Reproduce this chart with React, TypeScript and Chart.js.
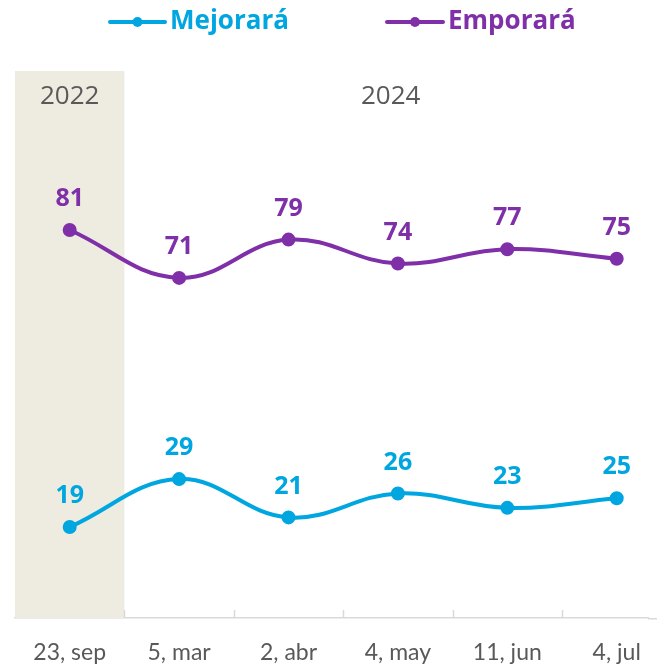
import React, { useEffect, useRef } from "react";
import { Chart, registerables } from "chart.js";

Chart.register(...registerables);

const categories = ["23, sep", "5, mar", "2, abr", "4, may", "11, jun", "4, jul"];
const mejorara = [19, 29, 21, 26, 23, 25];
const emporara = [81, 71, 79, 74, 77, 75];
const seriesNames = ["Mejorará", "Emporará"];
const yearLabels = ["2022", "2024"];

const CYAN = "#00A6DF";
const PURPLE = "#7F30A8";
const GRAY_TEXT = "#595959";
const BAND = "#EEEBE0";
const AXIS = "#D9D9D9";

const decorPlugin = {
  id: "decor",
  beforeDatasetsDraw(chart: any) {
    const { ctx, chartArea, scales } = chart;
    const x = scales.x;
    const x0 = x.getPixelForValue(-0.5);
    const x1 = x.getPixelForValue(0.5);
    ctx.save();
    ctx.fillStyle = BAND;
    ctx.fillRect(x0, chartArea.top, x1 - x0, chartArea.bottom - chartArea.top);
    ctx.fillStyle = GRAY_TEXT;
    ctx.font = "26px 'Open Sans'";
    ctx.textAlign = "center";
    ctx.textBaseline = "middle";
    ctx.fillText(yearLabels[0], (x0 + x1) / 2, chartArea.top + 26);
    ctx.fillText(yearLabels[1], (x1 + chart.width) / 2, chartArea.top + 26);
    ctx.strokeStyle = AXIS;
    ctx.lineWidth = 1.5;
    // extend axis line to the canvas edge
    ctx.beginPath();
    ctx.moveTo(chartArea.right, chartArea.bottom + 0.75);
    ctx.lineTo(chart.width, chartArea.bottom + 0.75);
    ctx.stroke();
    for (let i = 0; i < categories.length; i++) {
      const px = Math.round(x.getPixelForValue(i + 0.5)) + 0.5;
      if (px > chartArea.right) continue;
      ctx.beginPath();
      ctx.moveTo(px, chartArea.bottom);
      ctx.lineTo(px, chartArea.bottom - 8);
      ctx.stroke();
    }
    ctx.restore();
  },
  afterDatasetsDraw(chart: any) {
    const { ctx } = chart;
    ctx.save();
    ctx.font = "bold 25px 'Open Sans'";
    ctx.textAlign = "center";
    ctx.textBaseline = "middle";
    chart.data.datasets.forEach((ds: any, di: number) => {
      const meta = chart.getDatasetMeta(di);
      ctx.fillStyle = ds.borderColor;
      meta.data.forEach((pt: any, i: number) => {
        const d = ds.data[i];
        ctx.fillText(String(typeof d === "object" ? d.y : d), pt.x, pt.y - 31);
      });
    });
    const items = [
      { name: seriesNames[0], color: CYAN, x0: 110, x1: 165 },
      { name: seriesNames[1], color: PURPLE, x0: 387, x1: 443 },
    ];
    const ly = 22;
    items.forEach((it) => {
      ctx.strokeStyle = it.color;
      ctx.fillStyle = it.color;
      ctx.lineWidth = 4;
      ctx.lineCap = "round";
      ctx.beginPath();
      ctx.moveTo(it.x0, ly);
      ctx.lineTo(it.x1, ly);
      ctx.stroke();
      ctx.beginPath();
      ctx.arc((it.x0 + it.x1) / 2, ly, 5, 0, Math.PI * 2);
      ctx.fill();
      ctx.font = "bold 26px 'Open Sans'";
      ctx.textAlign = "left";
      ctx.textBaseline = "middle";
      ctx.fillText(it.name, it.x1 + 5, ly);
    });
    ctx.restore();
  },
};

export default function App() {
  const ref = useRef<HTMLCanvasElement | null>(null);
  useEffect(() => {
    if (!ref.current) return;
    const chart = new Chart(ref.current, {
      type: "line",
      data: {
        datasets: [
          { label: seriesNames[0], data: mejorara, borderColor: CYAN, backgroundColor: CYAN },
          { label: seriesNames[1], data: emporara, borderColor: PURPLE, backgroundColor: PURPLE },
        ].map((d) => ({
          ...d,
          data: d.data.map((v, i) => ({ x: i, y: v })) as any,
          borderWidth: 4,
          pointRadius: 5,
          pointHoverRadius: 5,
          tension: 0.4,
          fill: false,
          clip: false as any,
        })),
      },
      options: {
        animation: false,
        responsive: false,
        devicePixelRatio: 1,
        layout: { padding: { left: 15, right: 0, top: 71, bottom: 0 } },
        plugins: { legend: { display: false }, tooltip: { enabled: false } },
        scales: {
          x: {
            type: "linear",
            min: -0.5,
            max: 5.286,
            grid: { display: false },
            border: { display: true, color: AXIS, width: 1.5 },
            afterBuildTicks: (s: any) => {
              s.ticks = categories.map((_, i) => ({ value: i }));
            },
            afterFit: (s: any) => {
              s.height = 51;
              s.paddingLeft = 0;
              s.paddingRight = 0;
            },
            ticks: {
              autoSkip: false,
              maxRotation: 0,
              padding: 13,
              color: GRAY_TEXT,
              font: { family: "Lato", size: 23 },
              callback: (v: any) => categories[v as number] ?? "",
            },
          },
          y: { display: false, min: 0, max: 114.2 },
        },
      },
      plugins: [decorPlugin],
    });
    return () => chart.destroy();
  }, []);
  return (
    <div style={{ position: "fixed", left: 0, top: 0, width: 657, height: 669, background: "#fff" }}>
      <canvas ref={ref} width={657} height={669} style={{ display: "block" }} />
    </div>
  );
}
